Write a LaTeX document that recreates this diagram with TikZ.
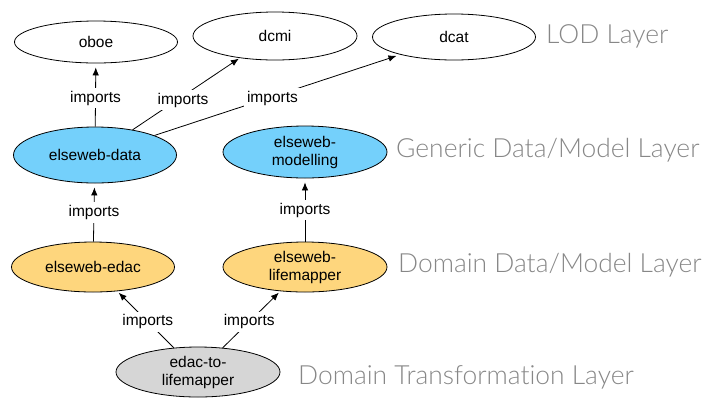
\documentclass[tikz,border=0pt]{standalone}
\usepackage{fontspec}
\setmainfont{Liberation Sans}
\newfontfamily\layerfont{Lato Light}[Ligatures=NoCommon]
\usetikzlibrary{shapes.geometric,arrows.meta}
\definecolor{skyb}{RGB}{116,208,251}
\definecolor{orng}{RGB}{254,214,125}
\definecolor{lgray}{RGB}{214,214,214}
\definecolor{layergray}{RGB}{135,135,135}
\tikzset{
  ont/.style={ellipse, draw=black, line width=0.8pt, inner sep=0pt, align=center,
    minimum width=163pt, minimum height=48pt, font=\fontsize{15.5}{18}\selectfont},
  imp/.style={draw=black, line width=0.8pt, -{Latex[length=8pt,width=6.5pt]}},
  lbl/.style={fill=white, inner sep=3pt, font=\fontsize{15.5}{18}\selectfont},
  layer/.style={anchor=west, text=layergray, inner sep=0pt, font=\layerfont\fontsize{26.4}{30}\selectfont}
}
\begin{document}
\begin{tikzpicture}[x=1pt,y=-1pt]
\useasboundingbox (0,0) rectangle (714,408);
\node[ont, minimum height=42pt] (oboe) at (96,42) {oboe};
\node[ont, minimum height=48pt, minimum width=164pt] (dcmi) at (275,36) {dcmi};
\node[ont, minimum height=46pt] (dcat) at (454,37) {dcat};
\node[ont, fill=skyb, minimum height=56pt] (data) at (95,155) {elseweb-data};
\node[ont, fill=skyb, minimum height=52pt, minimum width=164pt] (model) at (305,152) {elseweb-\\modelling};
\node[ont, fill=orng, minimum height=50pt] (edac) at (93,267) {elseweb-edac};
\node[ont, fill=orng, minimum height=50pt, minimum width=164pt] (life) at (305,267) {elseweb-\\lifemapper};
\node[ont, fill=lgray, minimum height=50pt, minimum width=164pt] (etl) at (198,372) {edac-to-\\lifemapper};

\node[layer] (l1) at (546,36) {LOD Layer};
\node[layer] (l2) at (396,150) {Generic Data/Model Layer};
\node[layer] (l3) at (398,265) {Domain Data/Model Layer};
\node[layer] (l4) at (298,377) {Domain Transformation Layer};

\draw[imp, shorten >=4pt] (data) -- node[lbl, pos=0.45] {imports} (oboe);
\draw[imp, shorten >=1pt] (data) -- node[lbl, pos=0.47, yshift=-4pt] {imports} (dcmi.212);
\draw[imp, shorten >=4pt] (data) -- node[lbl, pos=0.48, yshift=-2pt] {imports} (dcat);
\draw[imp, shorten >=4pt] (edac) -- node[lbl] {imports} (data);
\draw[imp, shorten >=4pt] (life) -- node[lbl] {imports} (model);
\draw[imp, shorten >=2pt] (etl) -- node[lbl, pos=0.46] {imports} (edac);
\draw[imp, shorten >=2pt] (etl) -- node[lbl, pos=0.46] {imports} (life);
\end{tikzpicture}
\end{document}
